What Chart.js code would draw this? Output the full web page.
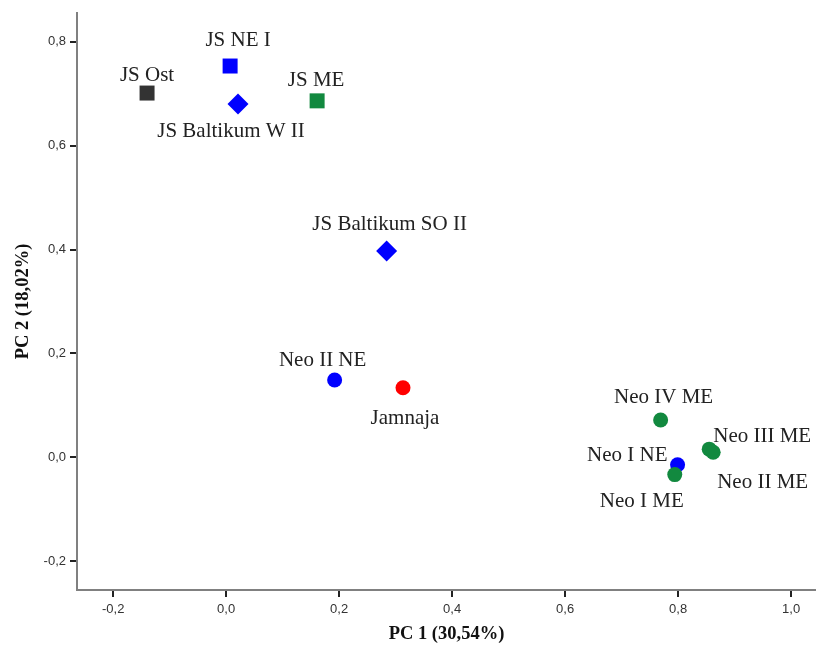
<!DOCTYPE html>
<html>
<head>
<meta charset="utf-8">
<script src="https://cdn.jsdelivr.net/npm/chart.js@4/dist/chart.umd.min.js"></script>
<style>
  body { margin: 0; background: #fff; }
  #wrap { width: 816px; height: 645px; position: relative; }
</style>
</head>
<body>
<div id="wrap"><canvas id="pca-chart"></canvas></div>
<script>
// PCA data: one entry per group
let groupNames = ['JS Ost', 'JS NE I', 'JS Baltikum W II', 'JS ME', 'JS Baltikum SO II',
  'Neo II NE', 'Jamnaja', 'Neo IV ME', 'Neo III ME', 'Neo II ME', 'Neo I NE', 'Neo I ME'];
let pc1Values = [-0.140, 0.007, 0.021, 0.161, 0.284, 0.192, 0.313, 0.769, 0.855, 0.862, 0.799, 0.794];
let pc2Values = [0.701, 0.753, 0.680, 0.686, 0.397, 0.149, 0.134, 0.072, 0.016, 0.010, -0.014, -0.033];
// region / kind of each group (categories)
let regions = ['Ost', 'NE', 'NE', 'ME', 'NE', 'NE', 'Jamnaja', 'ME', 'ME', 'ME', 'NE', 'ME'];
let kinds = ['JS', 'JS', 'Baltikum', 'JS', 'Baltikum', 'Neo', 'Neo', 'Neo', 'Neo', 'Neo', 'Neo', 'Neo'];

let xTitle = 'PC 1 (30,54%)';
let yTitle = 'PC 2 (18,02%)';

// styles
const regionColors = { Ost: '#333333', NE: '#0000ff', ME: '#12893f', Jamnaja: '#ff0000' };
const kindStyles = {
  JS: { style: 'rect', r: 10.6 },
  Baltikum: { style: 'rectRot', r: 10.5 },
  Neo: { style: 'circle', r: 7.5 }
};
// label placement relative to the marker: [dx, dy, align]
const labelPlace = {
  'JS Ost': [0, -18, 'center'],
  'JS NE I': [8, -26, 'center'],
  'JS Baltikum W II': [-7, 28, 'center'],
  'JS ME': [-1, -20, 'center'],
  'JS Baltikum SO II': [3, -27, 'center'],
  'Neo II NE': [-12, -20, 'center'],
  'Jamnaja': [2, 31, 'center'],
  'Neo IV ME': [3, -23, 'center'],
  'Neo III ME': [4, -13, 'left'],
  'Neo II ME': [4, 30, 'left'],
  'Neo I NE': [-10, -9, 'right'],
  'Neo I ME': [-33, 27, 'center']
};

let points = groupNames.map((n, i) => ({ x: pc1Values[i], y: pc2Values[i] }));

const pointLabels = {
  id: 'pointLabels',
  afterDatasetsDraw(chart) {
    const ctx = chart.ctx;
    const meta = chart.getDatasetMeta(0);
    ctx.save();
    ctx.font = '21px "Liberation Serif", serif';
    ctx.fillStyle = '#222';
    ctx.textBaseline = 'middle';
    meta.data.forEach((el, i) => {
      const p = labelPlace[groupNames[i]];
      ctx.textAlign = p[2];
      ctx.fillText(groupNames[i], el.x + p[0], el.y + p[1]);
    });
    ctx.restore();
  }
};

function commaTick(v) {
  return v.toFixed(1).replace('.', ',');
}

const tickFont = { family: '"Liberation Sans", Arial, sans-serif', size: 13 };
const titleFont = { family: '"Liberation Serif", serif', size: 18.5, weight: 'bold' };

let pcaChart = new Chart(document.getElementById('pca-chart'), {
  type: 'scatter',
  data: {
    datasets: [{
      data: points,
      pointStyle: kinds.map(k => kindStyles[k].style),
      pointRadius: kinds.map(k => kindStyles[k].r),
      pointHoverRadius: kinds.map(k => kindStyles[k].r),
      backgroundColor: regions.map(r => regionColors[r]),
      borderColor: regions.map(r => regionColors[r]),
      borderWidth: 0
    }]
  },
  options: {
    responsive: true,
    maintainAspectRatio: false,
    animation: false,
    layout: { autoPadding: false, padding: { top: 13, left: 12, right: 0, bottom: 0 } },
    plugins: { legend: { display: false }, tooltip: { enabled: false } },
    scales: {
      x: {
        min: -0.264,
        max: 1.044,
        afterFit: s => { s.height = 55; s.paddingLeft = 0; s.paddingRight = 0; },
        border: { display: true, color: '#808080', width: 2 },
        grid: { drawOnChartArea: false, drawTicks: true, tickLength: 7, color: '#222', lineWidth: 2 },
        ticks: { stepSize: 0.2, includeBounds: false, color: '#333', font: tickFont, padding: 5,
          maxRotation: 0, callback: commaTick },
        title: { display: true, text: xTitle, color: '#111', font: titleFont, padding: 0 }
      },
      y: {
        min: -0.255,
        max: 0.855,
        afterFit: s => { s.width = 65; s.paddingTop = 0; s.paddingBottom = 0; },
        border: { display: true, color: '#808080', width: 2 },
        grid: { drawOnChartArea: false, drawTicks: true, tickLength: 7, color: '#222', lineWidth: 2 },
        ticks: { stepSize: 0.2, includeBounds: false, color: '#333', font: tickFont, padding: 4,
          callback: commaTick },
        title: { display: true, text: yTitle, color: '#111', font: titleFont, padding: 0 }
      }
    }
  },
  plugins: [pointLabels]
});
</script>
</body>
</html>
